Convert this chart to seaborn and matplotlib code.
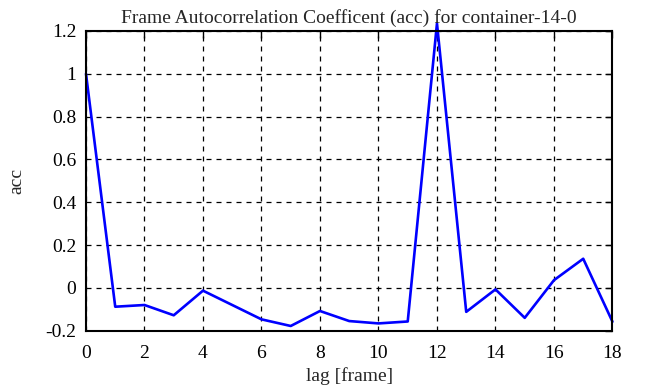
import matplotlib
matplotlib.use('Agg')
import matplotlib.pyplot as plt
import seaborn as sns
import pandas as pd

# autocorrelation values
lags = list(range(19))
acc = [1.0, -0.088, -0.080, -0.128, -0.013, -0.080, -0.147, -0.178, -0.108,
       -0.155, -0.166, -0.157, 1.235, -0.112, -0.007, -0.140, 0.036, 0.136, -0.158]
x_ticks = [0, 2, 4, 6, 8, 10, 12, 14, 16, 18]
y_ticks = [-0.2, 0, 0.2, 0.4, 0.6, 0.8, 1, 1.2]
y_tick_labels = ['-0.2', '0', '0.2', '0.4', '0.6', '0.8', '1', '1.2']

sns.set_style('white')
plt.rcParams['font.family'] = ['Liberation Serif', 'DejaVu Serif']

df = pd.DataFrame({'lag': lags, 'acc': acc})

fig = plt.figure(figsize=(6.46, 3.87), dpi=100)
ax = fig.add_axes([0.1331, 0.1455, 0.815, 0.7745])

sns.lineplot(data=df, x='lag', y='acc', ax=ax, color='#0000ff', linewidth=1.9, clip_on=False)

ax.set_xlim(0, 18)
ax.set_ylim(-0.2, 1.2)
ax.set_xticks(x_ticks)
ax.set_yticks(y_ticks)
ax.set_yticklabels(y_tick_labels)
ax.tick_params(direction='in', length=5, width=1, top=True, right=True,
               labelsize=14, colors='black', pad=7)
ax.tick_params(axis='x', pad=10)
ax.grid(True, color='black', linestyle=(0, (4, 4)), linewidth=0.9)
for s in ax.spines.values():
    s.set_color('black')
    s.set_linewidth(1.5)

ax.set_title('Frame Autocorrelation Coefficent (acc) for container-14-0', fontsize=14, pad=6)
ax.set_xlabel('lag [frame]', fontsize=14, labelpad=4)
ax.set_ylabel('acc', fontsize=14, labelpad=14)

plt.savefig('out.png', dpi=100)
plt.close()
